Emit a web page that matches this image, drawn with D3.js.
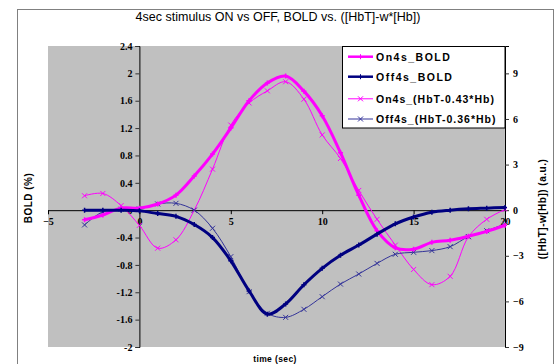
<!DOCTYPE html>
<html>
<head>
<meta charset="utf-8">
<script src="https://cdn.jsdelivr.net/npm/d3@7"></script>
<style>
  html, body { margin: 0; padding: 0; background: #ffffff; }
  svg { display: block; }
</style>
</head>
<body>
<svg id="chart" width="556" height="364"></svg>
<script>
// ---- data ----
const times = [-3, -2, -1, 0, 1, 2, 3, 4, 5, 6, 7, 8, 9, 10, 11, 12, 13, 14, 15, 16, 17, 18, 19, 20];
const on4sBold  = [-0.14, -0.07, 0.03, 0.03, 0.09, 0.22, 0.5, 0.82, 1.2, 1.6, 1.86, 1.96, 1.74, 1.38, 0.84, 0.22, -0.3, -0.55, -0.57, -0.47, -0.44, -0.38, -0.31, -0.22];
const off4sBold = [0.0, 0.0, 0.0, -0.01, -0.05, -0.09, -0.21, -0.4, -0.74, -1.18, -1.52, -1.37, -1.09, -0.85, -0.66, -0.51, -0.35, -0.2, -0.1, -0.03, 0.0, 0.02, 0.03, 0.04];
const on4sHb    = [0.95, 1.1, 0.3, -1.0, -2.5, -1.95, 0.0, 2.7, 5.6, 7.05, 7.85, 8.45, 7.3, 4.95, 3.4, 1.3, -0.6, -2.3, -3.9, -4.9, -4.35, -1.75, -0.6, 0.05];
const off4sHb   = [-0.97, -0.1, 0.06, 0.08, 0.41, 0.45, 0.0, -1.19, -3.06, -5.36, -6.78, -7.05, -6.52, -5.69, -4.86, -4.2, -3.5, -2.9, -2.77, -2.66, -2.4, -1.74, -1.35, -0.91];
const seriesNames = ["On4s_BOLD", "Off4s_BOLD", "On4s_(HbT-0.43*Hb)", "Off4s_(HbT-0.36*Hb)"];
const xTicks = [-5, 0, 5, 10, 15, 20];
const leftTicks = [-2, -1.6, -1.2, -0.8, -0.4, 0, 0.4, 0.8, 1.2, 1.6, 2, 2.4];
const rightTicks = [-9, -6, -3, 0, 3, 6, 9];
const titleText = "4sec stimulus ON vs OFF, BOLD vs. ([HbT]-w*[Hb])";

// ---- layout ----
const svg = d3.select("#chart");
const plot = { left: 48, right: 505, top: 46, bottom: 347 };
const x = d3.scaleLinear().domain([-5, 20]).range([plot.left, plot.right]);
const yL = d3.scaleLinear().domain([-2, 2.4]).range([plot.bottom, plot.top]);
const yR = d3.scaleLinear().domain([-9, 10.8]).range([plot.bottom, plot.top]);

const tickFont = "'Liberation Serif', 'Times New Roman', serif";
const sansFont = "'Liberation Sans', Arial, sans-serif";

// outer frame
svg.append("rect").attr("x", 17.5).attr("y", 9.5).attr("width", 536).attr("height", 370)
  .attr("fill", "#ffffff").attr("stroke", "#808080").attr("stroke-width", 1);

// plot area
svg.append("rect").attr("x", plot.left).attr("y", plot.top)
  .attr("width", plot.right - plot.left).attr("height", plot.bottom - plot.top)
  .attr("fill", "#c0c0c0");

// title
svg.append("text").attr("x", 278).attr("y", 21).attr("text-anchor", "middle")
  .attr("font-family", sansFont).attr("font-size", 12.5).attr("fill", "#000")
  .text(titleText);

// x axis at y = 0
const xAxis = d3.axisBottom(x).tickValues(xTicks).tickSize(4).tickPadding(4).tickFormat(d3.format("d"));
const gx = svg.append("g").attr("transform", `translate(0,${yL(0)})`).call(xAxis);
gx.select(".domain").attr("stroke", "#000");
gx.selectAll(".tick line").attr("stroke", "#000");
gx.selectAll(".tick text").attr("font-family", tickFont).attr("font-weight", "bold").attr("font-size", 10).attr("fill", "#000");

// left axis at x = 0
const yAxisL = d3.axisLeft(yL).tickValues(leftTicks).tickSize(4).tickPadding(3).tickFormat(d => String(+d.toFixed(1)));
const gl = svg.append("g").attr("transform", `translate(${x(0)},0)`).call(yAxisL);
gl.select(".domain").attr("stroke", "#000");
gl.selectAll(".tick line").attr("stroke", "#333");
gl.selectAll(".tick text").attr("font-family", tickFont).attr("font-weight", "bold").attr("font-size", 10).attr("fill", "#000");

// right axis
const yAxisR = d3.axisRight(yR).tickValues(rightTicks).tickSize(4).tickPadding(4).tickFormat(d3.format("d"));
const gr = svg.append("g").attr("transform", `translate(${plot.right},0)`).call(yAxisR);
gr.select(".domain").attr("stroke", "#000");
gr.selectAll(".tick line").attr("stroke", "#333");
gr.selectAll(".tick text").attr("font-family", tickFont).attr("font-weight", "bold").attr("font-size", 10).attr("fill", "#000");

// axis titles
svg.append("text").attr("transform", "translate(32,198) rotate(-90)").attr("text-anchor", "middle")
  .attr("font-family", sansFont).attr("font-weight", "bold").attr("font-size", 10).attr("letter-spacing", 0.5)
  .text("BOLD (%)");
svg.append("text").attr("transform", "translate(546,209) rotate(-90)").attr("text-anchor", "middle")
  .attr("font-family", sansFont).attr("font-weight", "bold").attr("font-size", 10).attr("letter-spacing", 0.5)
  .text("([HbT]-w[Hb]) (a.u.)");
svg.append("text").attr("x", 275).attr("y", 362).attr("text-anchor", "middle")
  .attr("font-family", sansFont).attr("font-weight", "bold").attr("font-size", 8.5).attr("letter-spacing", 0.4)
  .text("time (sec)");

// series
const series = [
  { name: seriesNames[0], values: on4sBold,  y: yL, color: "#ff00ff", width: 3, marker: "plus" },
  { name: seriesNames[1], values: off4sBold, y: yL, color: "#000080", width: 3, marker: "plus" },
  { name: seriesNames[2], values: on4sHb,    y: yR, color: "#ff00ff", width: 1, marker: "x" },
  { name: seriesNames[3], values: off4sHb,   y: yR, color: "#333399", width: 1, marker: "x" }
];

const clipId = "plotclip";
svg.append("clipPath").attr("id", clipId).append("rect")
  .attr("x", plot.left).attr("y", plot.top).attr("width", plot.right - plot.left + 2).attr("height", plot.bottom - plot.top);

const gLines = svg.append("g").attr("clip-path", `url(#${clipId})`);

function markerPath(type, s) {
  if (type === "x") return `M${-s},${-s}L${s},${s}M${-s},${s}L${s},${-s}`;
  return `M${-s},0L${s},0M0,${-s}L0,${s}`;
}

// draw thin series first, then thick on top
const drawOrder = [2, 3, 0, 1];
drawOrder.forEach(i => {
  const s = series[i];
  const pts = times.map((t, k) => [x(t), s.y(s.values[k])]);
  const line = d3.line().curve(d3.curveCatmullRom.alpha(0.5));
  gLines.append("path").attr("d", line(pts)).attr("fill", "none")
    .attr("stroke", s.color).attr("stroke-width", s.width).attr("stroke-linejoin", "round");
  gLines.selectAll(null).data(pts).enter().append("path")
    .attr("transform", d => `translate(${d[0]},${d[1]})`)
    .attr("d", markerPath(s.marker, 2.5))
    .attr("stroke", s.color).attr("stroke-width", s.marker === "x" ? 1 : 1.5).attr("fill", "none");
});

// legend
const lg = svg.append("g");
lg.append("rect").attr("x", 342.5).attr("y", 46.5).attr("width", 162.5).attr("height", 81.5)
  .attr("fill", "#ffffff").attr("stroke", "#000").attr("stroke-width", 1);
const legendY = [56.7, 76.7, 98.8, 119];
series.forEach((s, i) => {
  const yy = legendY[i];
  lg.append("line").attr("x1", 348).attr("x2", 373).attr("y1", yy).attr("y2", yy)
    .attr("stroke", s.color).attr("stroke-width", s.width === 3 ? 2.5 : 1);
  lg.append("path").attr("transform", `translate(360.5,${yy})`).attr("d", markerPath(s.marker, 2.5))
    .attr("stroke", s.color).attr("stroke-width", 1).attr("fill", "none");
  lg.append("text").attr("x", 376).attr("y", yy + 3.8)
    .attr("font-family", sansFont).attr("font-weight", "bold").attr("font-size", 10.5)
    .attr("letter-spacing", i < 2 ? 1.5 : 1.0).attr("fill", "#000")
    .text(s.name);
});
</script>
</body>
</html>
